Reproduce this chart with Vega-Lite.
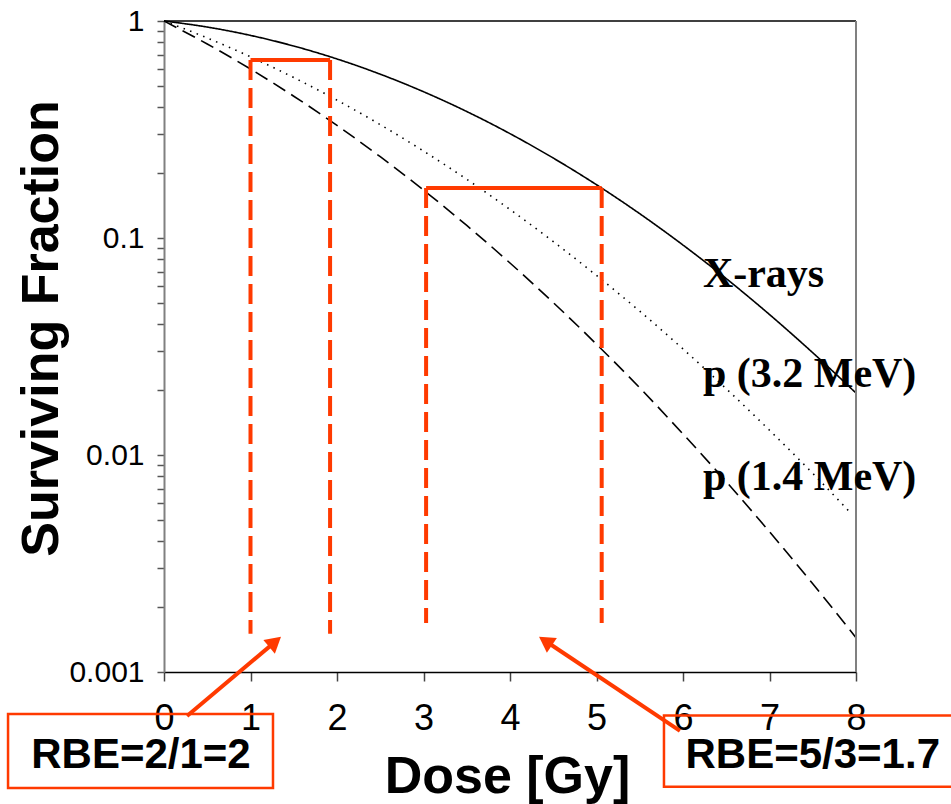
{
  "$schema": "https://vega.github.io/schema/vega-lite/v6.json",
  "width": 692,
  "height": 651,
  "autosize": {"type": "none"},
  "padding": {"left": 164, "top": 21, "right": 95, "bottom": 132},
  "background": "white",
  "config": {
    "font": "Liberation Sans",
    "view": {"stroke": null},
    "axis": {"grid": false}
  },
  "datasets": {
    "curves": [
      {"series": "X-rays", "dose": 0, "fraction": 1},
      {"series": "X-rays", "dose": 0.5, "fraction": 0.9378},
      {"series": "X-rays", "dose": 1, "fraction": 0.8584},
      {"series": "X-rays", "dose": 1.5, "fraction": 0.7668},
      {"series": "X-rays", "dose": 2, "fraction": 0.6685},
      {"series": "X-rays", "dose": 2.5, "fraction": 0.5687},
      {"series": "X-rays", "dose": 3, "fraction": 0.4722},
      {"series": "X-rays", "dose": 3.5, "fraction": 0.3827},
      {"series": "X-rays", "dose": 4, "fraction": 0.3026},
      {"series": "X-rays", "dose": 4.5, "fraction": 0.2336},
      {"series": "X-rays", "dose": 5, "fraction": 0.176},
      {"series": "X-rays", "dose": 5.5, "fraction": 0.1294},
      {"series": "X-rays", "dose": 6, "fraction": 0.0928},
      {"series": "X-rays", "dose": 6.5, "fraction": 0.065},
      {"series": "X-rays", "dose": 7, "fraction": 0.0444},
      {"series": "X-rays", "dose": 7.5, "fraction": 0.0296},
      {"series": "X-rays", "dose": 8, "fraction": 0.0193},
      {"series": "p (3.2 MeV)", "dose": 0, "fraction": 1},
      {"series": "p (3.2 MeV)", "dose": 0.5, "fraction": 0.8353},
      {"series": "p (3.2 MeV)", "dose": 1, "fraction": 0.6839},
      {"series": "p (3.2 MeV)", "dose": 1.5, "fraction": 0.5488},
      {"series": "p (3.2 MeV)", "dose": 2, "fraction": 0.4317},
      {"series": "p (3.2 MeV)", "dose": 2.5, "fraction": 0.3329},
      {"series": "p (3.2 MeV)", "dose": 3, "fraction": 0.2516},
      {"series": "p (3.2 MeV)", "dose": 3.5, "fraction": 0.1864},
      {"series": "p (3.2 MeV)", "dose": 4, "fraction": 0.1353},
      {"series": "p (3.2 MeV)", "dose": 4.5, "fraction": 0.0963},
      {"series": "p (3.2 MeV)", "dose": 5, "fraction": 0.0672},
      {"series": "p (3.2 MeV)", "dose": 5.5, "fraction": 0.046},
      {"series": "p (3.2 MeV)", "dose": 6, "fraction": 0.0308},
      {"series": "p (3.2 MeV)", "dose": 6.5, "fraction": 0.0202},
      {"series": "p (3.2 MeV)", "dose": 7, "fraction": 0.013},
      {"series": "p (3.2 MeV)", "dose": 7.5, "fraction": 0.00823},
      {"series": "p (3.2 MeV)", "dose": 7.92, "fraction": 0.0055},
      {"series": "p (1.4 MeV)", "dose": 0, "fraction": 1},
      {"series": "p (1.4 MeV)", "dose": 0.5, "fraction": 0.7835},
      {"series": "p (1.4 MeV)", "dose": 1, "fraction": 0.6005},
      {"series": "p (1.4 MeV)", "dose": 1.5, "fraction": 0.4502},
      {"series": "p (1.4 MeV)", "dose": 2, "fraction": 0.3302},
      {"series": "p (1.4 MeV)", "dose": 2.5, "fraction": 0.2369},
      {"series": "p (1.4 MeV)", "dose": 3, "fraction": 0.1663},
      {"series": "p (1.4 MeV)", "dose": 3.5, "fraction": 0.1142},
      {"series": "p (1.4 MeV)", "dose": 4, "fraction": 0.0767},
      {"series": "p (1.4 MeV)", "dose": 4.5, "fraction": 0.0504},
      {"series": "p (1.4 MeV)", "dose": 5, "fraction": 0.0324},
      {"series": "p (1.4 MeV)", "dose": 5.5, "fraction": 0.0204},
      {"series": "p (1.4 MeV)", "dose": 6, "fraction": 0.0125},
      {"series": "p (1.4 MeV)", "dose": 6.5, "fraction": 0.00753},
      {"series": "p (1.4 MeV)", "dose": 7, "fraction": 0.00443},
      {"series": "p (1.4 MeV)", "dose": 7.5, "fraction": 0.00255},
      {"series": "p (1.4 MeV)", "dose": 8, "fraction": 0.00144}
    ],
    "frameTop": [{"dose": 0, "dose2": 8, "fraction": 1}],
    "frameRight": [{"dose": 8, "fraction": 1, "fraction2": 0.001}],
    "bracketV": [
      {"dose": 1.0, "fraction": 0.661, "fraction2": 0.0015},
      {"dose": 1.92, "fraction": 0.661, "fraction2": 0.0015},
      {"dose": 3.03, "fraction": 0.17, "fraction2": 0.00168},
      {"dose": 5.06, "fraction": 0.17, "fraction2": 0.00168}
    ],
    "bracketH": [
      {"dose": 1.0, "dose2": 1.92, "fraction": 0.661},
      {"dose": 3.03, "dose2": 5.06, "fraction": 0.17}
    ],
    "seriesLabels": [
      {"label": "X-rays", "dose": 6.23, "fraction": 0.0594},
      {"label": "p (3.2 MeV)", "dose": 6.23, "fraction": 0.0206},
      {"label": "p (1.4 MeV)", "dose": 6.23, "fraction": 0.0069}
    ],
    "boxes": [
      {"dose": -1.803, "dose2": 1.26, "fraction": 0.00064, "fraction2": 0.000292},
      {"dose": 5.78, "dose2": 9.3, "fraction": 0.00063, "fraction2": 0.000296}
    ],
    "boxText": [
      {"text": "RBE=2/1=2", "dose": -0.266, "fraction": 0.000361},
      {"text": "RBE=5/3=1.7", "dose": 7.5, "fraction": 0.000361}
    ],
    "arrows": [
      {"arrow": "a", "dose": 0.266, "fraction": 0.000627},
      {"arrow": "a", "dose": 1.284, "fraction": 0.001377},
      {"arrow": "b", "dose": 5.965, "fraction": 0.000535},
      {"arrow": "b", "dose": 4.41, "fraction": 0.00139}
    ],
    "heads": [
      {"arrow": "a", "dose": 1.284, "fraction": 0.001377},
      {"arrow": "b", "dose": 4.41, "fraction": 0.00139}
    ]
  },
  "encoding": {
    "x": {"field": "dose", "type": "quantitative", "scale": {"domain": [0, 8], "nice": false, "zero": false}},
    "y": {"field": "fraction", "type": "quantitative", "scale": {"type": "log", "domain": [0.001, 1], "nice": false}}
  },
  "layer": [
    {
      "data": {"name": "curves"},
      "mark": {"type": "line", "color": "black", "strokeWidth": 1.6, "interpolate": "monotone"},
      "encoding": {
        "x": {
          "field": "dose", "type": "quantitative",
          "axis": {
            "values": [0, 1, 2, 3, 4, 5, 6, 7, 8],
            "format": "d",
            "title": "Dose [Gy]",
            "titleFont": "Liberation Sans", "titleFontSize": 52, "titleFontWeight": "bold", "titleColor": "black",
            "titleX": 343, "titleY": 120, "titleBaseline": "alphabetic", "titleAlign": "center",
            "labelFont": "Liberation Sans", "labelFontSize": 36, "labelColor": "black", "labelPadding": 20,
            "labelFlush": false, "labelOverlap": false,
            "tickSize": 9, "tickColor": "#444", "tickWidth": 1.5,
            "domainColor": "black", "domainWidth": 1.5
          }
        },
        "y": {
          "field": "fraction", "type": "quantitative",
          "axis": {
            "values": [0.001, 0.002, 0.003, 0.004, 0.005, 0.006, 0.007, 0.008, 0.009, 0.01, 0.02, 0.03, 0.04, 0.05, 0.06, 0.07, 0.08, 0.09, 0.1, 0.2, 0.3, 0.4, 0.5, 0.6, 0.7, 0.8, 0.9, 1],
            "labelExpr": "datum.value == 1 ? '1' : datum.value == 0.1 ? '0.1' : datum.value == 0.01 ? '0.01' : datum.value == 0.001 ? '0.001' : ''",
            "title": "Surviving Fraction",
            "titleFont": "Liberation Sans", "titleFontSize": 52, "titleFontWeight": "bold", "titleColor": "black",
            "titleAngle": 270, "titleX": -107, "titleY": 307, "titleBaseline": "alphabetic", "titleAlign": "center",
            "labelFont": "Liberation Sans", "labelFontSize": 30, "labelColor": "black", "labelPadding": 13,
            "labelFlush": false, "labelOverlap": false,
            "tickSize": 7, "tickColor": "#555", "tickWidth": 1.5,
            "domainColor": "#808080", "domainWidth": 2
          }
        },
        "strokeDash": {
          "field": "series", "type": "nominal", "legend": null,
          "scale": {"domain": ["X-rays", "p (3.2 MeV)", "p (1.4 MeV)"], "range": [[1, 0], [1.5, 5.5], [14, 7]]}
        },
        "detail": {"field": "series"}
      }
    },
    {
      "data": {"name": "frameTop"},
      "mark": {"type": "rule", "color": "black", "strokeWidth": 1.5},
      "encoding": {"x2": {"field": "dose2"}}
    },
    {
      "data": {"name": "frameRight"},
      "mark": {"type": "rule", "color": "#808080", "strokeWidth": 2},
      "encoding": {"y2": {"field": "fraction2"}}
    },
    {
      "data": {"name": "bracketV"},
      "mark": {"type": "rule", "color": "#FF3A00", "strokeWidth": 4, "strokeDash": [20, 8]},
      "encoding": {"y2": {"field": "fraction2"}}
    },
    {
      "data": {"name": "bracketH"},
      "mark": {"type": "rule", "color": "#FF3A00", "strokeWidth": 4},
      "encoding": {"x2": {"field": "dose2"}}
    },
    {
      "data": {"name": "seriesLabels"},
      "mark": {"type": "text", "font": "Liberation Serif", "fontWeight": "bold", "fontSize": 42, "align": "left", "baseline": "alphabetic", "color": "black"},
      "encoding": {"text": {"field": "label"}}
    },
    {
      "data": {"name": "boxes"},
      "mark": {"type": "rect", "fill": null, "fillOpacity": 0, "stroke": "#FF3A00", "strokeWidth": 2.5},
      "encoding": {"x2": {"field": "dose2"}, "y2": {"field": "fraction2"}}
    },
    {
      "data": {"name": "boxText"},
      "mark": {"type": "text", "font": "Liberation Sans", "fontWeight": "bold", "fontSize": 42, "align": "center", "baseline": "alphabetic", "color": "black"},
      "encoding": {"text": {"field": "text"}}
    },
    {
      "data": {"name": "arrows"},
      "mark": {"type": "line", "color": "#FF3A00", "strokeWidth": 4},
      "encoding": {"detail": {"field": "arrow"}}
    },
    {
      "data": {"name": "heads"},
      "transform": [{"filter": "datum.arrow == 'a'"}],
      "mark": {"type": "point", "shape": "triangle-up", "filled": true, "opacity": 1, "color": "#FF3A00", "size": 320, "angle": 50}
    },
    {
      "data": {"name": "heads"},
      "transform": [{"filter": "datum.arrow == 'b'"}],
      "mark": {"type": "point", "shape": "triangle-up", "filled": true, "opacity": 1, "color": "#FF3A00", "size": 320, "angle": 304}
    }
  ]
}
